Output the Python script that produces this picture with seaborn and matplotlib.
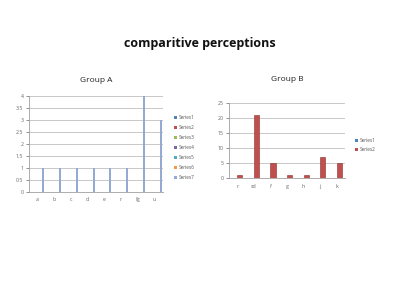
import matplotlib
matplotlib.use("Agg")
import matplotlib.pyplot as plt
import seaborn as sns
import pandas as pd

# ---- data ----
cats_a = ["a", "b", "c", "d", "e", "r", "fg", "u"]
vals_a = [1, 1, 1, 1, 1, 1, 4, 3]          # drawn as Series7 (other series empty)
series_a = ["Series1", "Series2", "Series3", "Series4", "Series5", "Series6", "Series7"]
colors_a = ["#4F81BD", "#C0504D", "#9BBB59", "#8064A2", "#4BACC6", "#F79646", "#95AAD2"]

cats_b = ["r", "sd", "f", "g", "h", "j", "k"]
vals_b = [1, 21, 5, 1, 1, 7, 5]            # Series2
series_b = ["Series1", "Series2"]
colors_b = ["#4F81BD", "#C0504D"]

sns.set_theme(style="white")
plt.rcParams["font.family"] = ["Open Sans", "DejaVu Sans"]

fig = plt.figure(figsize=(4, 3), dpi=100)
fig.patch.set_facecolor("white")

fig.text(0.5, 1 - 43 / 300, "comparitive perceptions", ha="center", va="center",
         fontsize=9, fontweight="bold", color="#111111")

grid_c = "#BFBFBF"
tick_c = "#666666"

# ---- Group A ----
rows = []
for s in series_a:
    for c, v in zip(cats_a, vals_a):
        rows.append({"cat": c, "series": s, "val": v if s == "Series7" else 0})
df_a = pd.DataFrame(rows)
axA = fig.add_axes([29 / 400, 1 - 191.5 / 300, 134 / 400, 95.5 / 300])
sns.barplot(data=df_a, x="cat", y="val", hue="series", order=cats_a, hue_order=series_a,
            palette=colors_a, width=7 / 8.5, linewidth=0, ax=axA, errorbar=None,
            saturation=1)
axA.set_ylim(0, 4)
axA.set_yticks([0, 0.5, 1, 1.5, 2, 2.5, 3, 3.5, 4])
axA.set_yticklabels(["0", "0.5", "1", "1.5", "2", "2.5", "3", "3.5", "4"])
axA.yaxis.grid(True, color=grid_c, linewidth=0.6)
axA.set_axisbelow(True)
axA.set_xlim(-0.5, len(cats_a) - 0.5)
axA.set_xlabel("")
axA.set_ylabel("")
for sp in ["top", "right"]:
    axA.spines[sp].set_visible(False)
for sp in ["left", "bottom"]:
    axA.spines[sp].set_color("#A0A0A0")
    axA.spines[sp].set_linewidth(0.6)
axA.tick_params(axis="both", labelsize=3.8, colors=tick_c, length=2, width=0.5, pad=2,
                left=True, bottom=False)
axA.set_title("Group A", fontsize=6, color="#222222", pad=10)
hA, lA = axA.get_legend_handles_labels()
axA.legend(hA, lA, loc="upper left", bbox_to_anchor=(172 / 400, 1 - 113 / 300),
           bbox_transform=fig.transFigure, frameon=False, fontsize=3.4,
           handlelength=0.6, handleheight=0.6, handletextpad=0.4, labelspacing=1.05,
           labelcolor="#555555", borderpad=0)

# ---- Group B ----
rows = []
for s in series_b:
    for c, v in zip(cats_b, vals_b):
        rows.append({"cat": c, "series": s, "val": v if s == "Series2" else 0})
df_b = pd.DataFrame(rows)
axB = fig.add_axes([229 / 400, 1 - 178 / 300, 116 / 400, 75 / 300])
sns.barplot(data=df_b, x="cat", y="val", hue="series", order=cats_b, hue_order=series_b,
            palette=colors_b, width=2 / 3.2, linewidth=0.4, edgecolor="#8B2F2C",
            ax=axB, errorbar=None, saturation=1)
for p in axB.patches:
    if p.get_height() == 0:
        p.set_linewidth(0)
axB.set_ylim(0, 25)
axB.set_yticks([0, 5, 10, 15, 20, 25])
axB.yaxis.grid(True, color=grid_c, linewidth=0.6)
axB.set_axisbelow(True)
axB.set_xlim(-0.5, len(cats_b) - 0.5)
axB.set_xlabel("")
axB.set_ylabel("")
for sp in ["top", "right"]:
    axB.spines[sp].set_visible(False)
for sp in ["left", "bottom"]:
    axB.spines[sp].set_color("#A0A0A0")
    axB.spines[sp].set_linewidth(0.6)
axB.tick_params(axis="both", labelsize=3.8, colors=tick_c, length=2, width=0.5, pad=2,
                left=True, bottom=False)
axB.set_title("Group B", fontsize=6, color="#222222", pad=16)
hB, lB = axB.get_legend_handles_labels()
axB.legend(hB, lB, loc="upper left", bbox_to_anchor=(353 / 400, 1 - 135.5 / 300),
           bbox_transform=fig.transFigure, frameon=False, fontsize=3.4,
           handlelength=0.6, handleheight=0.6, handletextpad=0.4, labelspacing=0.95,
           labelcolor="#555555", borderpad=0)

fig.savefig("out.png", dpi=100, facecolor="white")
